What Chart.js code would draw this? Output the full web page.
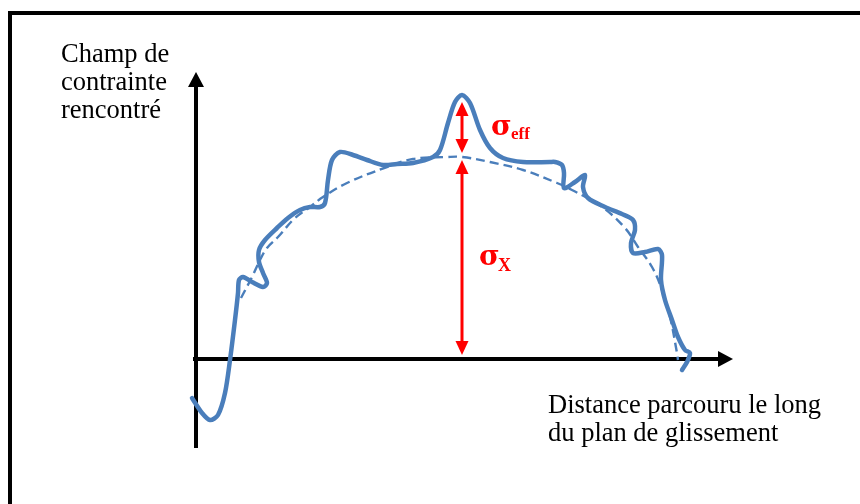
<!DOCTYPE html>
<html>
<head>
<meta charset="utf-8">
<script src="https://cdn.jsdelivr.net/npm/chart.js@4/dist/chart.umd.min.js"></script>
<style>
    html, body { margin: 0; padding: 0; background: #ffffff; }
    canvas { display: block; }
</style>
</head>
<body>
<canvas id="stressChart" width="860" height="504"></canvas>
<script>
// Values (origin = axes intersection, one unit ~ one pixel)
const measuredCurve = [
    [-4, -39], [6, -54], [14, -61], [22, -56], [29, -34], [34, -1], [39, 39], [42, 66],
    [43, 79], [47, 82], [56, 77], [67, 72], [71, 76], [67, 86], [63, 97], [63, 109],
    [69, 119], [81, 131], [92, 141], [104, 149], [114, 152], [124, 152], [129, 156],
    [132, 179], [136, 199], [144, 207], [157, 204], [171, 199], [187, 194], [201, 195],
    [217, 196], [237, 202], [244, 209], [252, 236], [259, 257], [266, 264], [274, 256],
    [284, 229], [294, 211], [307, 201], [327, 197], [354, 197], [359, 197], [366, 194],
    [368, 186], [368, 171], [379, 177], [389, 184], [387, 172], [392, 161], [409, 152],
    [426, 145], [437, 139], [439, 129], [435, 116], [437, 106], [449, 107], [462, 110],
    [466, 104], [465, 79], [469, 59], [476, 39], [482, 22], [489, 9], [494, 6],
    [491, -3], [486, -11]
];

const meanCurve = [
    [45, 61], [56, 82], [64, 99], [71, 111], [82, 122], [99, 141], [114, 152], [127, 162],
    [151, 176], [191, 192], [217, 200], [251, 202], [266, 202], [294, 197], [327, 189],
    [361, 176], [376, 169], [406, 152], [429, 131], [442, 112], [456, 92], [466, 69],
    [474, 42], [481, 6], [482, -1]
];

const yAxisRange = [-89, 287];   // bottom end, arrow tip
const xAxisRange = [-3, 537];    // left end, arrow tip

const sigmaX = 266;              // position of the red arrows
const sigmaEffRange = [206, 257];
const sigmaXRange = [4, 199];

const yTitleLines = ['Champ de', 'contrainte', 'rencontré'];
const xTitleLines = ['Distance parcouru le long', 'du plan de glissement'];

const toPoints = arr => arr.map(p => ({ x: p[0], y: p[1] }));

const arrowLen = 15;
const serif = '"Liberation Serif", "Times New Roman", serif';
const sigmaFont = '"DejaVu Serif", serif';

// frame, arrow heads, red arrows and text
const decorPlugin = {
    id: 'decor',
    beforeDraw(chart) {
        const ctx = chart.ctx;
        ctx.save();
        ctx.fillStyle = '#ffffff';
        ctx.fillRect(0, 0, chart.width, chart.height);
        ctx.strokeStyle = '#000000';
        ctx.lineWidth = 4;
        ctx.beginPath();
        ctx.moveTo(10, chart.height + 5);
        ctx.lineTo(10, 13);
        ctx.lineTo(chart.width + 5, 13);
        ctx.stroke();
        ctx.restore();
    },
    afterDatasetsDraw(chart) {
        const ctx = chart.ctx;
        const xs = chart.scales.x;
        const ys = chart.scales.y;
        const px = v => xs.getPixelForValue(v);
        const py = v => ys.getPixelForValue(v);

        ctx.save();
        // axis arrow heads
        ctx.fillStyle = '#000000';
        const ox = px(0), oy = py(0);
        const yTip = py(yAxisRange[1]);
        ctx.beginPath();
        ctx.moveTo(ox, yTip);
        ctx.lineTo(ox - 8, yTip + arrowLen);
        ctx.lineTo(ox + 8, yTip + arrowLen);
        ctx.closePath();
        ctx.fill();
        const xTip = px(xAxisRange[1]);
        ctx.beginPath();
        ctx.moveTo(xTip, oy);
        ctx.lineTo(xTip - arrowLen, oy - 8);
        ctx.lineTo(xTip - arrowLen, oy + 8);
        ctx.closePath();
        ctx.fill();

        // red double-headed arrows
        const red = '#ff0000';
        const drawArrow = (x, y1, y2) => {
            const top = Math.min(y1, y2), bot = Math.max(y1, y2);
            ctx.strokeStyle = red;
            ctx.fillStyle = red;
            ctx.lineWidth = 3;
            ctx.beginPath();
            ctx.moveTo(x, top + 10);
            ctx.lineTo(x, bot - 10);
            ctx.stroke();
            ctx.beginPath();
            ctx.moveTo(x, top);
            ctx.lineTo(x - 6.5, top + 14);
            ctx.lineTo(x + 6.5, top + 14);
            ctx.closePath();
            ctx.fill();
            ctx.beginPath();
            ctx.moveTo(x, bot);
            ctx.lineTo(x - 6.5, bot - 14);
            ctx.lineTo(x + 6.5, bot - 14);
            ctx.closePath();
            ctx.fill();
        };
        const ax = px(sigmaX);
        drawArrow(ax, py(sigmaEffRange[0]), py(sigmaEffRange[1]));
        drawArrow(ax, py(sigmaXRange[0]), py(sigmaXRange[1]));

        // sigma labels
        ctx.fillStyle = red;
        ctx.textBaseline = 'alphabetic';
        ctx.font = 'bold 28px ' + sigmaFont;
        ctx.fillText('σ', ax + 29, 135);
        ctx.font = 'bold 17px ' + serif;
        ctx.fillText('eff', ax + 49, 139);
        ctx.font = 'bold 28px ' + sigmaFont;
        ctx.fillText('σ', ax + 17, 265);
        ctx.font = 'bold 18px ' + serif;
        ctx.fillText('X', ax + 36, 271);

        // axis titles
        ctx.fillStyle = '#000000';
        ctx.font = '26.5px ' + serif;
        yTitleLines.forEach((t, i) => ctx.fillText(t, 61, 62 + i * 28));
        xTitleLines.forEach((t, i) => ctx.fillText(t, 548, 413 + i * 28));
        ctx.restore();
    }
};

const blue = '#4a7ebb';

new Chart(document.getElementById('stressChart'), {
    type: 'scatter',
    data: {
        datasets: [
            {
                data: toPoints(measuredCurve),
                showLine: true,
                borderColor: blue,
                borderWidth: 4.5,
                pointRadius: 0,
                tension: 0.3,
                borderCapStyle: 'round',
                borderJoinStyle: 'round'
            },
            {
                data: toPoints(meanCurve),
                showLine: true,
                borderColor: blue,
                borderWidth: 2.4,
                borderDash: [9, 5],
                pointRadius: 0,
                tension: 0.4
            },
            {
                // y axis
                data: [{ x: 0, y: yAxisRange[0] }, { x: 0, y: yAxisRange[1] - 10 }],
                showLine: true,
                borderColor: '#000000',
                borderWidth: 4,
                pointRadius: 0
            },
            {
                // x axis
                data: [{ x: xAxisRange[0], y: 0 }, { x: xAxisRange[1] - 10, y: 0 }],
                showLine: true,
                borderColor: '#000000',
                borderWidth: 4,
                pointRadius: 0
            }
        ]
    },
    options: {
        responsive: false,
        animation: false,
        devicePixelRatio: 1,
        layout: { padding: 0 },
        plugins: {
            legend: { display: false },
            tooltip: { enabled: false }
        },
        scales: {
            x: { type: 'linear', min: -196, max: 664, display: false },
            y: { type: 'linear', min: -145, max: 359, display: false }
        }
    },
    plugins: [decorPlugin]
});
</script>
</body>
</html>
